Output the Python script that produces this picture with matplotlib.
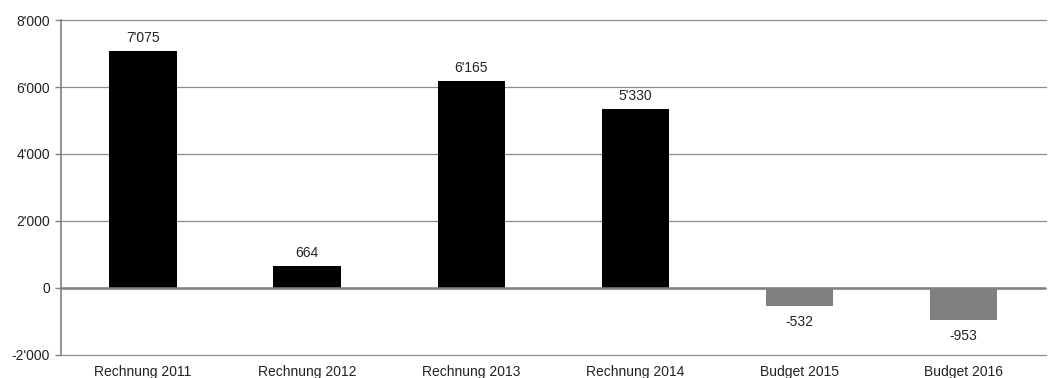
import matplotlib.pyplot as plt
from matplotlib.ticker import FuncFormatter

categories = ['Rechnung 2011', 'Rechnung 2012', 'Rechnung 2013', 'Rechnung 2014', 'Budget 2015', 'Budget 2016']
values = [7075, 664, 6165, 5330, -532, -953]
bar_colors = ['#000000', '#000000', '#000000', '#000000', '#808080', '#808080']
y_ticks = [-2000, 0, 2000, 4000, 6000, 8000]

plt.rcParams['font.family'] = ['Liberation Sans', 'DejaVu Sans']


def swiss(v, pos=None):
    # Tausendertrennzeichen als Apostroph
    return f"{int(v):,}".replace(',', "'")


fig = plt.figure(figsize=(10.5, 3.78), dpi=100)
ax = fig.add_axes([0.058, 0.061, 0.938, 0.886])

x = range(len(categories))
ax.bar(x, values, width=0.41, color=bar_colors, zorder=3)

ax.set_xlim(-0.5, len(categories) - 0.5)
ax.set_ylim(-2000, 8000)
ax.set_yticks(y_ticks)
ax.yaxis.set_major_formatter(FuncFormatter(swiss))
ax.grid(axis='y', color='#8c8c8c', linewidth=0.9, zorder=0)
for gl in ax.get_ygridlines():
    gl.set_clip_on(False)
ax.axhline(0, color='#808080', linewidth=1.8, zorder=4)

for s in ['top', 'right', 'bottom']:
    ax.spines[s].set_visible(False)
ax.spines['left'].set_color('#808080')
ax.spines['left'].set_linewidth(1.2)

ax.set_xticks(list(x))
ax.set_xticklabels(categories)
ax.tick_params(axis='x', length=0, pad=7, labelsize=10, labelcolor='#222222')
ax.tick_params(axis='y', length=4, color='#808080', width=1, pad=4, labelsize=10, labelcolor='#222222')

for i, v in enumerate(values):
    if v >= 0:
        ax.text(i, v + 180, swiss(v), ha='center', va='bottom', fontsize=10, color='#222222')
    else:
        ax.text(i, v - 280, swiss(v), ha='center', va='top', fontsize=10, color='#222222')

fig.savefig('out.png', dpi=100)
